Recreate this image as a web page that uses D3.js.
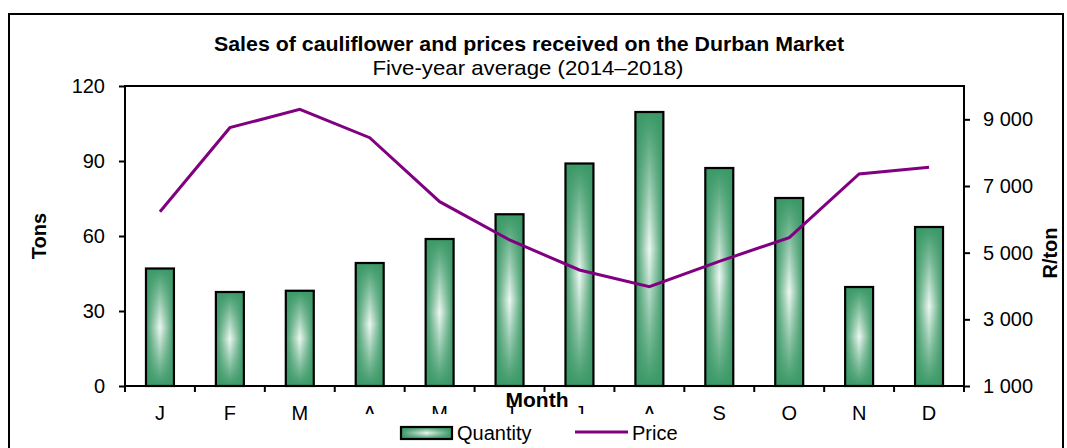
<!DOCTYPE html>
<html>
<head>
<meta charset="utf-8">
<script src="https://cdn.jsdelivr.net/npm/d3@7"></script>
<style>
  body { margin: 0; background: #fff; }
  svg { display: block; font-family: "Liberation Sans", Arial, sans-serif; }
</style>
</head>
<body>
<svg width="1067" height="448"></svg>
<script>
// data
const months = ['J', 'F', 'M', 'A', 'M', 'J', 'J', 'A', 'S', 'O', 'N', 'D'];
const quantity = [47, 37.6, 38.1, 49.2, 58.8, 68.7, 89, 109.6, 87.2, 75.2, 39.6, 63.6];
const price = [6230, 8750, 9300, 8450, 6530, 5380, 4480, 3980, 4740, 5450, 7360, 7560];
const tonTicks = [0, 30, 60, 90, 120];
const priceTicks = [1000, 3000, 5000, 7000, 9000];

const svg = d3.select('svg');
const pLeft = 125, pRight = 964, pTop = 86, pBottom = 386;
const green = '#3a9866';

// gradients for the bars (rectangle "from centre" look)
const defs = svg.append('defs');
const vg = defs.append('linearGradient').attr('id', 'vgrad')
  .attr('x1', 0).attr('y1', 0).attr('x2', 0).attr('y2', 1);
vg.append('stop').attr('offset', 0).attr('stop-color', green);
vg.append('stop').attr('offset', 0.5).attr('stop-color', '#eef8f2');
vg.append('stop').attr('offset', 1).attr('stop-color', green);
const hg = defs.append('linearGradient').attr('id', 'hgrad')
  .attr('x1', 0).attr('y1', 0).attr('x2', 1).attr('y2', 0);
hg.append('stop').attr('offset', 0).attr('stop-color', green).attr('stop-opacity', 1);
hg.append('stop').attr('offset', 0.5).attr('stop-color', green).attr('stop-opacity', 0);
hg.append('stop').attr('offset', 1).attr('stop-color', green).attr('stop-opacity', 1);

// outer frame
svg.append('rect').attr('x', 9).attr('y', 14).attr('width', 1054).attr('height', 450)
  .attr('fill', 'none').attr('stroke', '#000').attr('stroke-width', 2);

// scales
const x = d3.scaleBand().domain(d3.range(months.length)).range([pLeft, pRight]);
const y = d3.scaleLinear().domain([0, 120]).range([pBottom, pTop]);
const yR = d3.scaleLinear().domain([1000, 10000]).range([pBottom, pTop]);
const barW = x.bandwidth() * 0.4;

// bars
const bars = svg.append('g').selectAll('g').data(quantity).enter().append('g');
bars.append('rect')
  .attr('x', (d, i) => x(i) + (x.bandwidth() - barW) / 2)
  .attr('y', d => y(d))
  .attr('width', barW)
  .attr('height', d => pBottom - y(d))
  .attr('fill', 'url(#vgrad)');
bars.append('rect')
  .attr('x', (d, i) => x(i) + (x.bandwidth() - barW) / 2)
  .attr('y', d => y(d))
  .attr('width', barW)
  .attr('height', d => pBottom - y(d))
  .attr('fill', 'url(#hgrad)')
  .attr('stroke', '#000').attr('stroke-width', 2.2);

// price line
const line = d3.line()
  .x((d, i) => x(i) + x.bandwidth() / 2)
  .y(d => yR(d));
svg.append('path').datum(price).attr('d', line)
  .attr('fill', 'none').attr('stroke', '#800080').attr('stroke-width', 3);

// plot frame
svg.append('rect').attr('x', pLeft).attr('y', pTop)
  .attr('width', pRight - pLeft).attr('height', pBottom - pTop)
  .attr('fill', 'none').attr('stroke', '#000').attr('stroke-width', 2);

// left axis
const ax = svg.append('g').attr('transform', `translate(${pLeft},0)`)
  .call(d3.axisLeft(y).tickValues(tonTicks).tickSize(6).tickPadding(14));
// right axis
const fmt = v => d3.format(',')(v).replace(',', ' ');
const axR = svg.append('g').attr('transform', `translate(${pRight},0)`)
  .call(d3.axisRight(yR).tickValues(priceTicks).tickFormat(fmt).tickSize(6).tickPadding(13));
// bottom ticks at band boundaries
const bounds = d3.range(months.length + 1).map(i => pLeft + i * x.step());
svg.append('g').selectAll('line').data(bounds).enter().append('line')
  .attr('x1', d => d).attr('x2', d => d)
  .attr('y1', pBottom).attr('y2', pBottom + 6)
  .attr('stroke', '#000').attr('stroke-width', 2);

[ax, axR].forEach(g => {
  g.select('.domain').remove();
  g.selectAll('line').attr('stroke-width', 2);
  g.selectAll('text').attr('font-size', 20).attr('fill', '#000')
    .attr('font-family', '"Liberation Sans", Arial, sans-serif');
});

// month labels
svg.append('g').selectAll('text').data(months).enter().append('text')
  .attr('x', (d, i) => x(i) + x.bandwidth() / 2)
  .attr('y', 420)
  .attr('text-anchor', 'middle').attr('font-size', 20)
  .text(d => d);

// legend box (white, overlaps the middle month labels as in the original)
svg.append('rect').attr('x', 342).attr('y', 414).attr('width', 360).attr('height', 33)
  .attr('fill', '#fff');

// axis titles
svg.append('text').attr('x', 537).attr('y', 407).attr('text-anchor', 'middle')
  .attr('font-size', 21).attr('font-weight', 'bold')
  .attr('textLength', 63).attr('lengthAdjust', 'spacingAndGlyphs').text('Month');
svg.append('text').attr('transform', 'translate(46,236) rotate(-90)')
  .attr('text-anchor', 'middle').attr('font-size', 20).attr('font-weight', 'bold').text('Tons');
svg.append('text').attr('transform', 'translate(1057,253) rotate(-90)')
  .attr('text-anchor', 'middle').attr('font-size', 20).attr('font-weight', 'bold').text('R/ton');

// titles (narrow face in the original, so squeeze to its width)
svg.append('text').attr('x', 529).attr('y', 51).attr('text-anchor', 'middle')
  .attr('font-size', 21).attr('font-weight', 'bold')
  .attr('textLength', 630).attr('lengthAdjust', 'spacingAndGlyphs')
  .text('Sales of cauliflower and prices received on the Durban Market');
svg.append('text').attr('x', 528).attr('y', 75).attr('text-anchor', 'middle')
  .attr('font-size', 21)
  .attr('textLength', 311).attr('lengthAdjust', 'spacingAndGlyphs')
  .text('Five-year average (2014–2018)');

// legend
const lg = svg.append('g');
lg.append('rect').attr('x', 401).attr('y', 427).attr('width', 51).attr('height', 12)
  .attr('fill', 'url(#vgrad)');
lg.append('rect').attr('x', 401).attr('y', 427).attr('width', 51).attr('height', 12)
  .attr('fill', 'url(#hgrad)').attr('stroke', '#000').attr('stroke-width', 2.2);
lg.append('text').attr('x', 457).attr('y', 440).attr('font-size', 20).text('Quantity');
lg.append('line').attr('x1', 575).attr('x2', 628).attr('y1', 432).attr('y2', 432)
  .attr('stroke', '#800080').attr('stroke-width', 3);
lg.append('text').attr('x', 632).attr('y', 440).attr('font-size', 20).text('Price');
</script>
</body>
</html>
